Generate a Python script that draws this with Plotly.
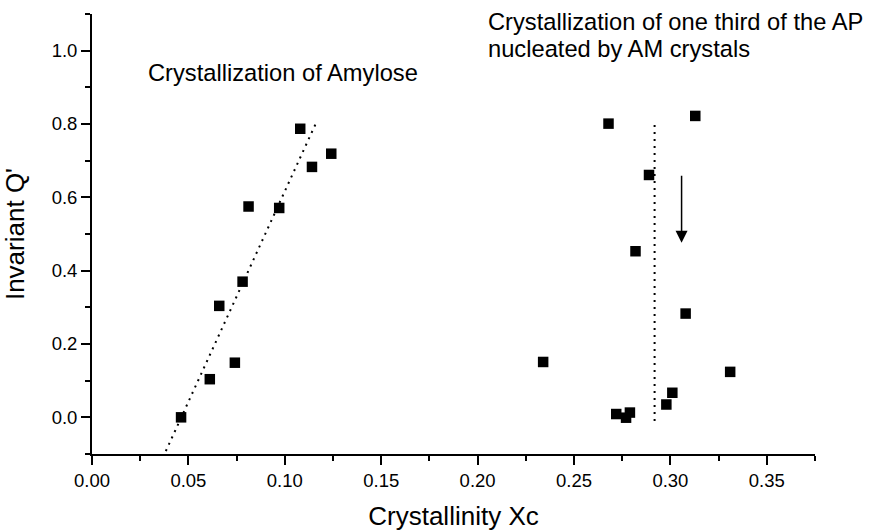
import plotly.graph_objects as go

# Amylose crystallization series
amylose_xc = [0.0462, 0.0611, 0.0741, 0.0660, 0.0781, 0.0812, 0.0971, 0.1080, 0.1141, 0.1241]
amylose_q = [0.000, 0.104, 0.149, 0.304, 0.370, 0.575, 0.571, 0.787, 0.683, 0.719]

# Amylopectin fraction nucleated by amylose crystals
ap_xc = [0.2679, 0.3129, 0.2889, 0.2819, 0.3079, 0.2340, 0.3310, 0.3010, 0.2979, 0.2719, 0.2770, 0.2790]
ap_q = [0.801, 0.822, 0.661, 0.453, 0.283, 0.151, 0.124, 0.067, 0.035, 0.009, -0.001, 0.013]

# Guide lines
amylose_trend_x = [0.0383, 0.1165]
amylose_trend_y = [-0.092, 0.806]
ap_guide_x = [0.2918, 0.2918]
ap_guide_y = [-0.010, 0.809]

# Arrow (tail -> head)
arrow_x = [0.3058, 0.3058]
arrow_y = [0.663, 0.476]

x_ticks = [0.00, 0.05, 0.10, 0.15, 0.20, 0.25, 0.30, 0.35]
y_ticks = [0.0, 0.2, 0.4, 0.6, 0.8, 1.0]

FONT = "Liberation Sans, Arial, sans-serif"

fig = go.Figure()

dotted = dict(color="black", width=2, dash="2px,5px")
fig.add_trace(go.Scatter(x=amylose_trend_x, y=amylose_trend_y, mode="lines",
                         line=dotted, showlegend=False, hoverinfo="skip"))
fig.add_trace(go.Scatter(x=ap_guide_x, y=ap_guide_y, mode="lines",
                         line=dotted, showlegend=False, hoverinfo="skip"))

square = dict(symbol="square", size=10.5, color="black", line=dict(width=0))
fig.add_trace(go.Scatter(x=amylose_xc, y=amylose_q, mode="markers",
                         marker=square, showlegend=False))
fig.add_trace(go.Scatter(x=ap_xc, y=ap_q, mode="markers",
                         marker=square, showlegend=False))

fig.add_annotation(x=arrow_x[1], y=arrow_y[1], ax=arrow_x[0], ay=arrow_y[0],
                   xref="x", yref="y", axref="x", ayref="y",
                   showarrow=True, arrowhead=2, arrowsize=1.6, arrowwidth=1.5,
                   arrowcolor="black", text="")

label_font = dict(family=FONT, size=23.7, color="black")
fig.add_annotation(x=0.0279, y=0.940, xref="x", yref="y", xanchor="left", yanchor="middle",
                   text="Crystallization of Amylose", showarrow=False, font=label_font)
fig.add_annotation(x=0.2044, y=1.079, xref="x", yref="y", xanchor="left", yanchor="middle",
                   text="Crystallization of one third of the AP", showarrow=False, font=label_font)
fig.add_annotation(x=0.2044, y=1.004, xref="x", yref="y", xanchor="left", yanchor="middle",
                   text="nucleated by AM crystals", showarrow=False, font=label_font)

axis_common = dict(
    showline=True, linecolor="black", linewidth=1.8, mirror=False,
    ticks="outside", ticklen=9, tickwidth=1.8, tickcolor="black",
    showgrid=False, zeroline=False,
    tickfont=dict(family=FONT, size=18.5, color="black"),
    title_font=dict(family=FONT, size=26, color="black"),
)

fig.update_xaxes(range=[0, 0.375], tickvals=x_ticks,
                 ticktext=[f"{v:.2f}" for v in x_ticks],
                 minor=dict(dtick=0.025, tick0=0, ticklen=5, tickwidth=1.8,
                            tickcolor="black", ticks="outside"),
                 title_text="Crystallinity Xc", title_standoff=17, **axis_common)
fig.update_yaxes(range=[-0.1, 1.1], tickvals=y_ticks,
                 ticktext=[f"{v:.1f}" for v in y_ticks],
                 minor=dict(dtick=0.1, tick0=0, ticklen=5, tickwidth=1.8,
                            tickcolor="black", ticks="outside"),
                 title_text="Invariant Q'", title_standoff=21, **axis_common)

fig.update_layout(width=871, height=531,
                  margin=dict(l=92, r=56, t=14, b=77, autoexpand=False),
                  plot_bgcolor="white", paper_bgcolor="white",
                  font=dict(family=FONT, color="black"))

fig.write_html("out.html")
